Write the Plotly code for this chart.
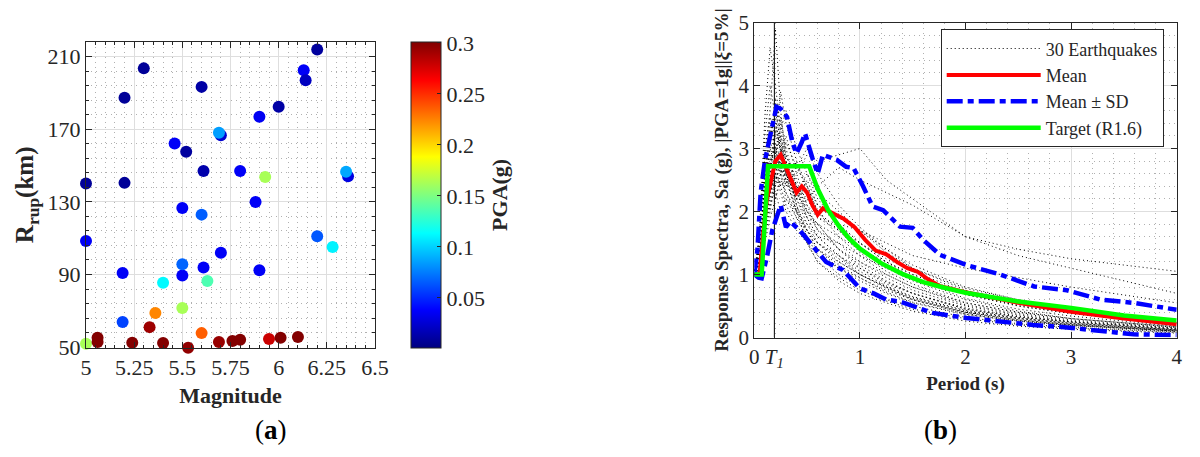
import plotly.graph_objects as go

# ---------------- (a) record set: magnitude vs rupture distance, coloured by PGA
magnitude = [6.20, 5.30, 6.13, 6.14, 5.20, 5.60, 6.00, 5.90, 5.70, 5.69, 5.46, 5.52,
             5.61, 5.80, 5.93, 6.36, 6.35, 5.00, 5.20, 5.88, 5.50, 5.60, 5.00, 6.20,
             6.28, 5.70, 5.50, 5.50, 5.61, 5.90, 5.19, 5.40, 5.63, 5.50, 5.36, 5.19,
             5.33, 5.60, 5.00, 5.06, 5.06, 5.24, 5.40, 5.53, 5.69, 5.76, 5.80, 5.95,
             6.01, 6.10]
r_rup = [214.0, 203.6, 202.6, 197.1, 187.4, 193.4, 182.4, 176.9, 166.8, 168.1, 162.2, 157.6,
         147.1, 147.1, 143.8, 144.2, 146.6, 140.1, 140.5, 130.0, 126.7, 123.0, 108.5, 111.1,
         105.2, 102.0, 89.4, 95.6, 93.8, 92.3, 90.8, 85.5, 86.4, 71.5, 68.8, 63.8,
         61.0, 57.7, 51.8, 55.1, 52.8, 52.4, 52.2, 49.6, 52.8, 53.3, 54.0, 54.4,
         55.2, 55.5]
pga = [0.010, 0.008, 0.036, 0.020, 0.008, 0.012, 0.012, 0.035, 0.025, 0.085, 0.036, 0.010,
       0.014, 0.036, 0.163, 0.030, 0.088, 0.008, 0.008, 0.036, 0.036, 0.066, 0.036, 0.064,
       0.110, 0.036, 0.036, 0.068, 0.036, 0.036, 0.036, 0.112, 0.136, 0.163, 0.224, 0.058,
       0.292, 0.236, 0.163, 0.300, 0.300, 0.300, 0.300, 0.296, 0.294, 0.300, 0.300, 0.279,
       0.300, 0.300]

mag_ticks = [5, 5.25, 5.5, 5.75, 6, 6.25, 6.5]
mag_labels = ["5", "5.25", "5.5", "5.75", "6", "6.25", "6.5"]
r_ticks = [50, 90, 130, 170, 210]
pga_ticks = [0.05, 0.1, 0.15, 0.2, 0.25, 0.3]

# ---------------- (b) normalised response spectra
T1 = 0.19
eq_periods = [0, 0.05, 0.1, 0.15, 0.2, 0.25, 0.3, 0.4, 0.5, 0.6, 0.8, 1.0, 1.25, 1.5, 2.0, 2.5, 3.0, 4.0]
eq_spectra = [
    [1, 1.3, 2.1, 2.8, 3.4, 3.0, 2.6, 2.2, 1.9, 1.6, 1.3, 1.1, 0.85, 0.7, 0.45, 0.32, 0.25, 0.14],
    [1, 1.2, 1.8, 2.4, 2.2, 2.6, 3.1, 2.7, 2.4, 2.0, 1.7, 1.4, 1.1, 0.9, 0.6, 0.42, 0.3, 0.17],
    [1, 1.5, 2.9, 3.6, 4.9, 3.6, 2.8, 2.1, 1.6, 1.3, 1.0, 0.8, 0.6, 0.5, 0.32, 0.22, 0.16, 0.09],
    [1, 1.1, 1.6, 2.0, 2.5, 2.7, 2.4, 2.6, 2.9, 2.8, 2.9, 3.0, 2.5, 2.2, 1.6, 1.3, 1.1, 0.7],
    [1, 1.4, 2.5, 3.1, 2.9, 3.5, 3.0, 2.4, 2.0, 1.7, 1.5, 1.2, 0.95, 0.75, 0.5, 0.36, 0.26, 0.15],
    [1, 1.2, 2.0, 2.3, 2.7, 2.4, 2.1, 1.8, 1.5, 1.2, 0.9, 0.7, 0.55, 0.42, 0.26, 0.18, 0.13, 0.07],
    [1, 1.6, 3.2, 4.0, 3.5, 2.9, 2.5, 2.0, 1.7, 1.5, 1.3, 1.0, 0.8, 0.62, 0.4, 0.3, 0.22, 0.12],
    [1, 1.1, 1.7, 2.2, 2.9, 3.3, 3.6, 3.0, 2.6, 2.3, 2.0, 1.7, 1.4, 1.1, 0.75, 0.55, 0.4, 0.22],
    [1, 1.3, 2.2, 2.6, 2.3, 2.0, 2.2, 1.9, 1.7, 1.4, 1.2, 1.0, 0.78, 0.6, 0.38, 0.27, 0.2, 0.11],
    [1, 1.2, 2.4, 3.0, 3.8, 3.1, 2.7, 2.3, 2.6, 2.2, 1.8, 1.5, 1.2, 0.95, 0.62, 0.45, 0.34, 0.18],
    [1, 1.4, 2.6, 3.3, 3.0, 2.7, 2.9, 2.5, 2.0, 1.8, 1.4, 1.2, 1.0, 0.8, 0.55, 0.4, 0.3, 0.16],
    [1, 1.1, 1.5, 1.9, 2.2, 2.5, 2.3, 2.0, 2.2, 2.4, 2.7, 2.5, 2.3, 2.1, 1.6, 1.4, 1.25, 1.05],
    [1, 1.7, 3.5, 4.6, 4.0, 3.3, 2.6, 2.0, 1.5, 1.2, 0.95, 0.75, 0.58, 0.45, 0.3, 0.2, 0.15, 0.08],
    [1, 1.2, 2.0, 2.5, 2.8, 3.0, 2.6, 2.3, 1.9, 1.8, 1.6, 1.4, 1.2, 1.0, 0.7, 0.5, 0.38, 0.2],
    [1, 1.3, 2.3, 2.7, 3.1, 2.8, 2.4, 2.8, 2.3, 2.0, 1.7, 1.35, 1.05, 0.85, 0.55, 0.4, 0.3, 0.17],
    [1, 1.1, 1.8, 2.1, 2.4, 2.9, 3.2, 2.6, 2.1, 1.7, 1.4, 1.15, 0.9, 0.7, 0.45, 0.33, 0.24, 0.13],
    [1, 1.5, 2.8, 3.4, 3.0, 2.6, 2.3, 1.9, 1.6, 1.4, 1.1, 0.9, 0.7, 0.55, 0.36, 0.26, 0.19, 0.1],
    [1, 1.2, 2.1, 2.6, 3.2, 3.9, 3.4, 2.8, 2.4, 2.0, 1.6, 1.3, 1.0, 0.8, 0.52, 0.38, 0.28, 0.15],
    [1, 1.3, 2.4, 2.9, 2.6, 2.4, 2.5, 2.2, 2.5, 2.1, 1.9, 1.7, 1.35, 1.1, 0.78, 0.6, 0.46, 0.26],
    [1, 1.2, 1.9, 2.3, 2.6, 2.3, 2.0, 1.7, 1.5, 1.3, 1.1, 0.95, 0.75, 0.6, 0.4, 0.28, 0.21, 0.11],
    [1, 1.4, 2.7, 3.2, 3.7, 3.4, 2.9, 2.4, 1.9, 1.6, 1.3, 1.05, 0.82, 0.65, 0.43, 0.31, 0.23, 0.12],
    [1, 1.1, 1.7, 2.3, 2.5, 2.8, 2.5, 2.7, 3.0, 2.6, 2.1, 1.75, 1.4, 1.15, 0.8, 0.6, 0.45, 0.25],
    [1, 1.6, 3.0, 3.5, 3.2, 3.0, 2.6, 2.2, 1.8, 1.5, 1.2, 1.0, 0.8, 0.6, 0.4, 0.28, 0.2, 0.1],
    [1, 1.2, 2.2, 2.8, 3.0, 2.6, 2.2, 2.0, 1.8, 1.6, 1.5, 1.3, 1.1, 0.95, 0.68, 0.52, 0.4, 0.22],
    [1, 1.3, 2.0, 2.5, 2.9, 3.2, 2.8, 2.3, 2.0, 1.8, 1.4, 1.1, 0.88, 0.7, 0.47, 0.34, 0.25, 0.13],
    [1, 1.2, 2.3, 2.7, 2.4, 2.6, 2.8, 2.4, 2.1, 1.9, 1.8, 1.7, 1.5, 1.3, 1.1, 0.95, 0.8, 0.55],
    [1, 1.5, 2.6, 3.1, 3.6, 3.1, 2.7, 2.1, 1.7, 1.4, 1.15, 0.95, 0.72, 0.56, 0.37, 0.26, 0.19, 0.1],
    [1, 1.1, 1.6, 2.1, 2.6, 2.9, 2.7, 2.4, 2.2, 1.9, 1.7, 1.5, 1.25, 1.05, 0.72, 0.55, 0.42, 0.24],
    [1, 1.4, 2.5, 3.0, 2.7, 2.9, 2.5, 2.0, 1.7, 1.5, 1.25, 1.0, 0.8, 0.64, 0.42, 0.3, 0.22, 0.12],
    [1, 1.2, 2.1, 2.6, 3.3, 3.0, 2.6, 2.2, 2.4, 2.1, 1.8, 1.5, 1.2, 1.0, 0.68, 0.5, 0.38, 0.21],
]

mean_T = [0, 0.05, 0.08, 0.12, 0.16, 0.2, 0.25, 0.3, 0.35, 0.4, 0.45, 0.5, 0.55, 0.6, 0.65, 0.75,
          0.85, 0.95, 1.05, 1.15, 1.25, 1.35, 1.45, 1.55, 1.65, 1.75, 2.0, 2.5, 3.0, 3.5, 4.0]
mean_sa = [1.0, 1.0, 1.6, 2.2, 2.5, 2.8, 2.9, 2.7, 2.5, 2.3, 2.4, 2.3, 2.1, 1.95, 2.05, 1.97,
           1.88, 1.75, 1.55, 1.38, 1.32, 1.2, 1.1, 1.04, 0.92, 0.82, 0.72, 0.55, 0.41, 0.3, 0.21]

upper_T = [0, 0.03, 0.06, 0.1, 0.15, 0.21, 0.25, 0.31, 0.36, 0.4, 0.45, 0.48, 0.55, 0.6, 0.65,
           0.72, 0.78, 0.87, 0.94, 1.03, 1.12, 1.22, 1.3, 1.38, 1.5, 1.6, 1.76, 2.01, 2.33, 2.65,
           2.96, 3.28, 3.59, 4.0]
upper_sa = [1.0, 1.4, 2.3, 2.8, 3.2, 3.66, 3.63, 3.5, 3.1, 2.92, 3.1, 3.24, 2.85, 2.6, 2.9,
            2.85, 2.82, 2.71, 2.69, 2.4, 2.08, 2.02, 1.9, 1.76, 1.74, 1.55, 1.31, 1.15, 1.0, 0.81,
            0.75, 0.6, 0.55, 0.44]

lower_T = [0, 0.04, 0.07, 0.12, 0.17, 0.21, 0.25, 0.3, 0.34, 0.43, 0.56, 0.68, 0.84, 1.0, 1.13,
           1.25, 1.38, 1.69, 2.01, 2.32, 2.64, 2.96, 3.28, 3.59, 4.0]
lower_sa = [1.0, 0.95, 0.94, 1.28, 1.7, 1.92, 2.1, 1.75, 1.84, 1.7, 1.44, 1.2, 1.07, 0.78, 0.7,
            0.6, 0.57, 0.39, 0.31, 0.25, 0.2, 0.16, 0.1, 0.05, 0.04]

target_T = [0, 0.07, 0.13, 0.52, 0.6, 0.7, 0.8, 0.9, 1.0, 1.2, 1.4, 1.6, 1.8, 2.0, 2.5, 3.0, 3.5, 4.0]
target_sa = [1.0, 1.0, 2.72, 2.72, 2.36, 2.02, 1.77, 1.57, 1.41, 1.18, 1.01, 0.88, 0.79, 0.71,
             0.57, 0.47, 0.35, 0.27]

period_ticks = [0, T1, 1, 2, 3, 4]
period_labels = ["0", "<i>T</i><sub><i>1</i></sub>", "1", "2", "3", "4"]

# matlab style jet
JET = [[0, "#000080"], [0.125, "#0000ff"], [0.375, "#00ffff"],
       [0.625, "#ffff00"], [0.875, "#ff0000"], [1, "#800000"]]
AXC = "#262626"
FONT = "Liberation Serif"

# page body has an 8px margin, so the figure is 16px smaller than the window
W, H, PAD = 1184, 441, 8


def px_x(px):
    return (px - PAD) / W


def px_y(py):
    return 1 - (py - PAD) / H


fig = go.Figure()

fig.add_trace(go.Scatter(
    x=magnitude, y=r_rup, mode="markers", xaxis="x", yaxis="y",
    cliponaxis=False, showlegend=False,
    marker=dict(size=12, color=pga, colorscale=JET, cmin=0.001, cmax=0.301,
                line=dict(width=0),
                colorbar=dict(x=px_x(411), xanchor="left", y=(px_y(41.7) + px_y(348)) / 2,
                              yanchor="middle", len=(348 - 41.7) / H, lenmode="fraction",
                              thickness=30, thicknessmode="pixels",
                              outlinecolor=AXC, outlinewidth=1, xpad=0, ypad=0,
                              tickvals=pga_ticks, ticktext=["0.05", "0.1", "0.15", "0.2", "0.25", "0.3"],
                              ticks="inside", ticklen=4, tickcolor=AXC,
                              tickfont=dict(size=22, family=FONT, color=AXC),
                              title=dict(text="<b>PGA(g)</b>", side="right",
                                         font=dict(size=22, family=FONT, color=AXC))))))

# 30 record spectra (only first in legend)
for i, sa in enumerate(eq_spectra):
    fig.add_trace(go.Scatter(
        x=eq_periods, y=sa, mode="lines", xaxis="x2", yaxis="y2",
        line=dict(color="black", width=1, dash="1px,3px"),
        name="30 Earthquakes", legendgroup="eq", showlegend=(i == 0)))

fig.add_trace(go.Scatter(x=[T1, T1], y=[0, 5], mode="lines", xaxis="x2", yaxis="y2",
                         line=dict(color="black", width=1), showlegend=False))

fig.add_trace(go.Scatter(x=mean_T, y=mean_sa, mode="lines", xaxis="x2", yaxis="y2",
                         line=dict(color="#ff0000", width=4), name="Mean"))

sd_dash = "16px,5px,6px,5px"
fig.add_trace(go.Scatter(x=upper_T, y=upper_sa, mode="lines", xaxis="x2", yaxis="y2",
                         line=dict(color="#0000ff", width=4.5, dash=sd_dash),
                         name="Mean ± SD", legendgroup="sd"))
fig.add_trace(go.Scatter(x=lower_T, y=lower_sa, mode="lines", xaxis="x2", yaxis="y2",
                         line=dict(color="#0000ff", width=4.5, dash=sd_dash),
                         name="Mean ± SD", legendgroup="sd", showlegend=False))

fig.add_trace(go.Scatter(x=target_T, y=target_sa, mode="lines", xaxis="x2", yaxis="y2",
                         line=dict(color="#00ff00", width=4.5), name="Target (R1.6)"))

grid_major = "#dedede"
grid_minor = "#b0b0b0"


def axis_style(**kw):
    base = dict(showline=True, mirror="ticks", linecolor=AXC, linewidth=1,
                ticks="inside", ticklen=6, tickcolor=AXC, zeroline=False,
                automargin=False,
                showgrid=True, gridcolor=grid_major, gridwidth=1,
                tickfont=dict(size=22, family=FONT, color=AXC))
    base.update(kw)
    return base


fig.update_layout(
    width=W, height=H,
    margin=dict(l=0, r=0, t=0, b=0),
    paper_bgcolor="white", plot_bgcolor="white",
    font=dict(family=FONT, color=AXC),
    xaxis=axis_style(domain=[px_x(86), px_x(375)], range=[5, 6.5], anchor="y",
                     tickmode="array", tickvals=mag_ticks, ticktext=mag_labels,
                     minor=dict(tickmode="linear", tick0=5, dtick=0.05, ticks="inside",
                                ticklen=3, tickcolor=AXC, showgrid=True,
                                gridcolor=grid_minor, griddash="1px,4px"),
                     title=dict(text="<b>Magnitude</b>", standoff=8,
                                font=dict(size=22, family=FONT, color=AXC))),
    yaxis=axis_style(domain=[px_y(348), px_y(41.7)], range=[49.5, 218.3], anchor="x",
                     tickmode="array", tickvals=r_ticks,
                     minor=dict(tickmode="linear", tick0=50, dtick=8, ticks="inside",
                                ticklen=3, tickcolor=AXC, showgrid=True,
                                gridcolor=grid_minor, griddash="1px,4px"),
                     title=dict(text="<b>R<sub>rup</sub>(km)</b>", standoff=6,
                                font=dict(size=25, family=FONT, color=AXC))),
    xaxis2=axis_style(domain=[px_x(754.3), px_x(1176.7)], range=[0, 4], anchor="y2",
                      tickmode="array", tickvals=period_ticks, ticktext=period_labels,
                      tickfont=dict(size=21, family=FONT, color=AXC),
                      minor=dict(tickmode="linear", tick0=0, dtick=0.2, ticks="",
                                 showgrid=True, gridcolor=grid_minor, griddash="1px,4px"),
                      title=dict(text="<b>Period (s)</b>", standoff=6,
                                 font=dict(size=19, family=FONT, color=AXC))),
    yaxis2=axis_style(domain=[px_y(337.5), px_y(22.5)], range=[0, 5], anchor="x2",
                      tickmode="array", tickvals=[0, 1, 2, 3, 4, 5],
                      tickfont=dict(size=21, family=FONT, color=AXC),
                      minor=dict(tickmode="linear", tick0=0, dtick=0.2, ticks="",
                                 showgrid=True, gridcolor=grid_minor, griddash="1px,4px"),
                      title=dict(text="<b>Response Spectra, Sa (g), |PGA=1g||<i>ξ</i>=5%|</b>",
                                 standoff=4, font=dict(size=19, family=FONT, color=AXC))),
    showlegend=True,
    legend=dict(x=px_x(940.7), y=px_y(29.3), xanchor="left", yanchor="top",
                bgcolor="white", bordercolor=AXC, borderwidth=1,
                itemwidth=94, tracegroupgap=0,
                font=dict(size=18, family=FONT, color=AXC)),
    annotations=[
        dict(text="(<b>a</b>)", x=px_x(271), y=px_y(430), xref="paper", yref="paper",
             xanchor="center", yanchor="middle",
             showarrow=False, font=dict(size=27, family=FONT, color="black")),
        dict(text="(<b>b</b>)", x=px_x(940), y=px_y(430), xref="paper", yref="paper",
             xanchor="center", yanchor="middle",
             showarrow=False, font=dict(size=27, family=FONT, color="black")),
    ],
)

fig.write_html("out.html")
